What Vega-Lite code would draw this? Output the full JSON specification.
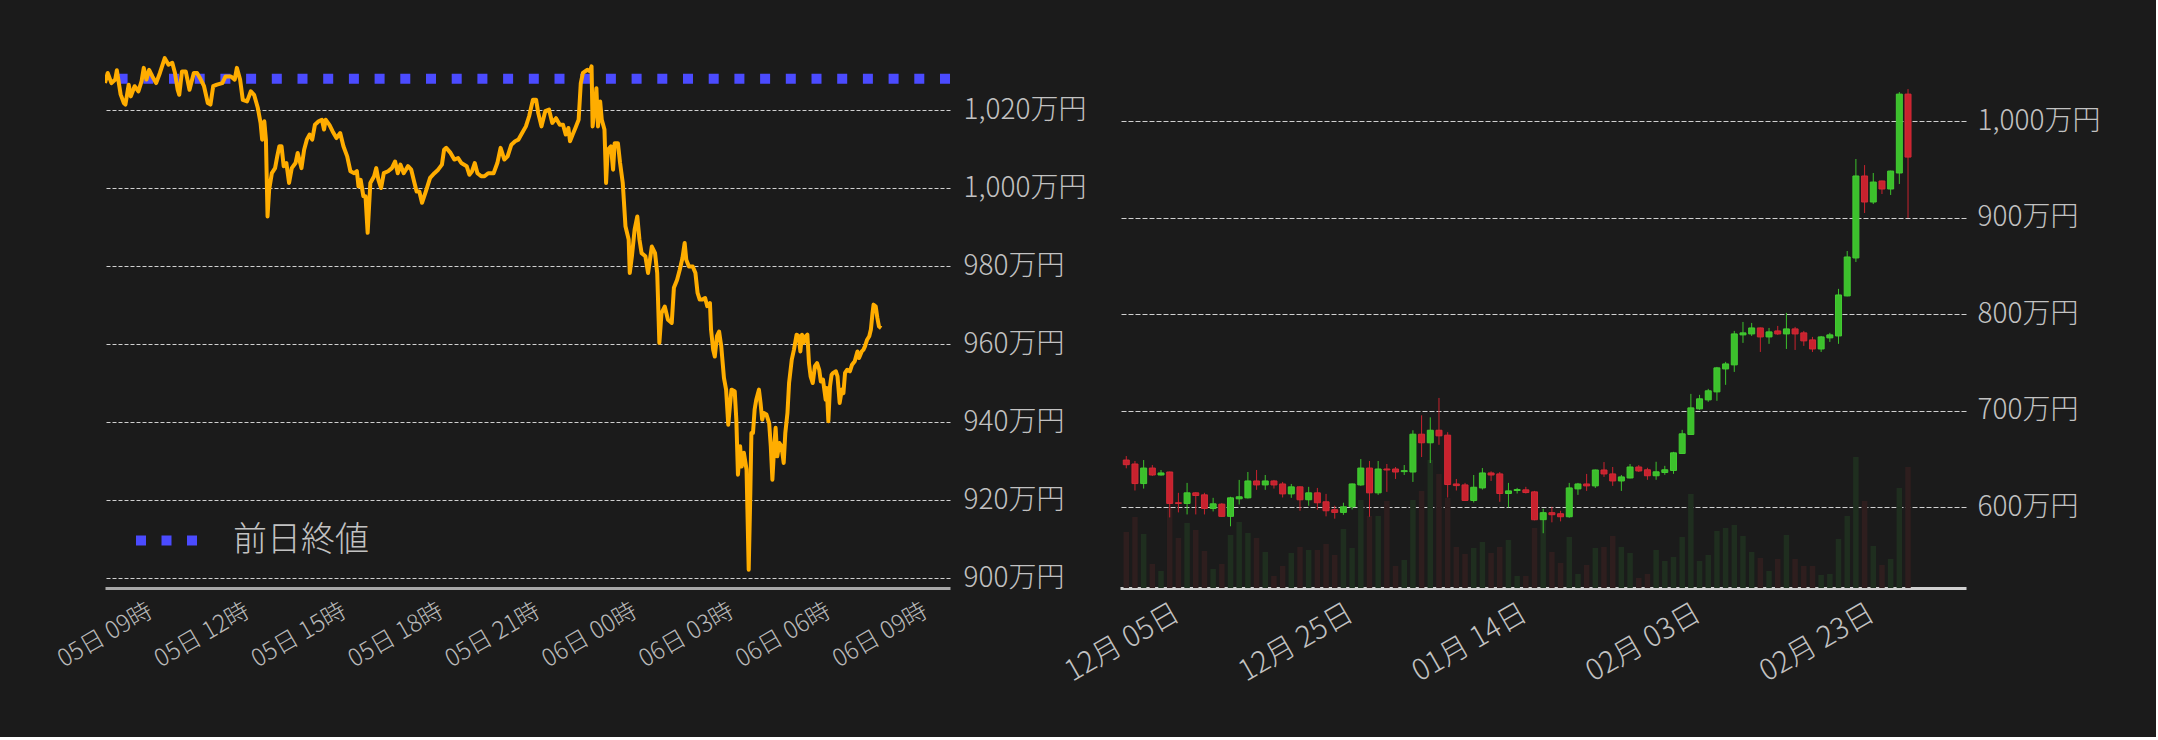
{
  "$schema": "https://vega.github.io/schema/vega-lite/v6.json",
  "background": "#1b1b1b",
  "padding": {"left": 53, "top": 54, "right": 56, "bottom": 50},
  "bounds": "flush",
  "spacing": 170,
  "config": {
    "view": {"stroke": null},
    "font": "Noto Sans CJK JP",
    "axis": {"labelFont": "Noto Sans CJK JP", "labelFontWeight": 300, "ticks": false, "tickSize": 0, "domain": false, "grid": false}
  },
  "datasets": {
    "intraday": [
      {"t":"2024-03-05T09:00","p":1026.9},{"t":"2024-03-05T09:05","p":1029.5},{"t":"2024-03-05T09:12","p":1026.9},{"t":"2024-03-05T09:19","p":1027.8},{"t":"2024-03-05T09:22","p":1030.2},{"t":"2024-03-05T09:29","p":1024.0},{"t":"2024-03-05T09:35","p":1021.8},{"t":"2024-03-05T09:38","p":1021.4},{"t":"2024-03-05T09:44","p":1026.5},{"t":"2024-03-05T09:48","p":1023.5},
      {"t":"2024-03-05T09:55","p":1026.1},{"t":"2024-03-05T10:02","p":1024.8},{"t":"2024-03-05T10:08","p":1027.4},{"t":"2024-03-05T10:12","p":1030.8},{"t":"2024-03-05T10:17","p":1027.8},{"t":"2024-03-05T10:22","p":1030.3},{"t":"2024-03-05T10:28","p":1028.6},{"t":"2024-03-05T10:35","p":1026.9},{"t":"2024-03-05T10:42","p":1029.5},{"t":"2024-03-05T10:51","p":1033.3},
      {"t":"2024-03-05T10:58","p":1031.6},{"t":"2024-03-05T11:05","p":1032.1},{"t":"2024-03-05T11:10","p":1029.5},{"t":"2024-03-05T11:15","p":1025.2},{"t":"2024-03-05T11:18","p":1023.9},{"t":"2024-03-05T11:23","p":1029.9},{"t":"2024-03-05T11:30","p":1029.9},{"t":"2024-03-05T11:37","p":1025.2},{"t":"2024-03-05T11:45","p":1029.5},{"t":"2024-03-05T11:51","p":1029.5},
      {"t":"2024-03-05T11:58","p":1027.8},{"t":"2024-03-05T12:04","p":1026.1},{"t":"2024-03-05T12:11","p":1021.8},{"t":"2024-03-05T12:16","p":1021.4},{"t":"2024-03-05T12:21","p":1026.1},{"t":"2024-03-05T12:28","p":1026.5},{"t":"2024-03-05T12:38","p":1026.9},{"t":"2024-03-05T12:44","p":1028.6},{"t":"2024-03-05T12:54","p":1028.6},{"t":"2024-03-05T13:01","p":1027.8},
      {"t":"2024-03-05T13:05","p":1030.8},{"t":"2024-03-05T13:11","p":1027.8},{"t":"2024-03-05T13:16","p":1022.6},{"t":"2024-03-05T13:24","p":1022.2},{"t":"2024-03-05T13:31","p":1024.8},{"t":"2024-03-05T13:37","p":1023.9},{"t":"2024-03-05T13:44","p":1020.5},{"t":"2024-03-05T13:49","p":1016.7},{"t":"2024-03-05T13:52","p":1012.4},{"t":"2024-03-05T13:56","p":1017.1},
      {"t":"2024-03-05T13:59","p":1012.4},{"t":"2024-03-05T14:02","p":992.7},{"t":"2024-03-05T14:05","p":999.6},{"t":"2024-03-05T14:10","p":1003.8},{"t":"2024-03-05T14:16","p":1005.1},{"t":"2024-03-05T14:20","p":1008.1},{"t":"2024-03-05T14:24","p":1010.7},{"t":"2024-03-05T14:28","p":1010.7},{"t":"2024-03-05T14:32","p":1005.6},{"t":"2024-03-05T14:37","p":1006.4},
      {"t":"2024-03-05T14:42","p":1001.3},{"t":"2024-03-05T14:47","p":1005.1},{"t":"2024-03-05T14:54","p":1006.4},{"t":"2024-03-05T14:58","p":1009.0},{"t":"2024-03-05T15:05","p":1005.1},{"t":"2024-03-05T15:10","p":1009.8},{"t":"2024-03-05T15:15","p":1012.4},{"t":"2024-03-05T15:20","p":1013.7},{"t":"2024-03-05T15:25","p":1012.4},{"t":"2024-03-05T15:30","p":1016.2},
      {"t":"2024-03-05T15:37","p":1017.1},{"t":"2024-03-05T15:43","p":1017.5},{"t":"2024-03-05T15:47","p":1015.0},{"t":"2024-03-05T15:50","p":1017.5},{"t":"2024-03-05T15:57","p":1016.2},{"t":"2024-03-05T16:03","p":1014.5},{"t":"2024-03-05T16:10","p":1012.8},{"t":"2024-03-05T16:17","p":1014.1},{"t":"2024-03-05T16:23","p":1010.7},{"t":"2024-03-05T16:30","p":1008.1},
      {"t":"2024-03-05T16:36","p":1004.3},{"t":"2024-03-05T16:43","p":1003.8},{"t":"2024-03-05T16:48","p":1004.3},{"t":"2024-03-05T16:51","p":1000.4},{"t":"2024-03-05T16:55","p":1002.1},{"t":"2024-03-05T17:00","p":997.9},{"t":"2024-03-05T17:04","p":997.9},{"t":"2024-03-05T17:08","p":988.5},{"t":"2024-03-05T17:13","p":1001.3},{"t":"2024-03-05T17:20","p":1003.0},
      {"t":"2024-03-05T17:24","p":1005.1},{"t":"2024-03-05T17:28","p":1002.1},{"t":"2024-03-05T17:33","p":1000.0},{"t":"2024-03-05T17:38","p":1003.8},{"t":"2024-03-05T17:46","p":1004.3},{"t":"2024-03-05T17:53","p":1005.1},{"t":"2024-03-05T17:59","p":1006.8},{"t":"2024-03-05T18:04","p":1003.8},{"t":"2024-03-05T18:09","p":1006.0},{"t":"2024-03-05T18:15","p":1003.8},
      {"t":"2024-03-05T18:23","p":1005.6},{"t":"2024-03-05T18:29","p":1004.7},{"t":"2024-03-05T18:35","p":1001.3},{"t":"2024-03-05T18:39","p":999.1},{"t":"2024-03-05T18:44","p":999.1},{"t":"2024-03-05T18:49","p":996.2},{"t":"2024-03-05T18:56","p":999.1},{"t":"2024-03-05T19:04","p":1002.6},{"t":"2024-03-05T19:12","p":1003.8},{"t":"2024-03-05T19:19","p":1004.7},
      {"t":"2024-03-05T19:26","p":1006.0},{"t":"2024-03-05T19:30","p":1009.8},{"t":"2024-03-05T19:34","p":1010.3},{"t":"2024-03-05T19:42","p":1009.0},{"t":"2024-03-05T19:49","p":1007.3},{"t":"2024-03-05T19:56","p":1007.7},{"t":"2024-03-05T20:02","p":1006.4},{"t":"2024-03-05T20:12","p":1005.6},{"t":"2024-03-05T20:17","p":1003.4},{"t":"2024-03-05T20:22","p":1004.3},
      {"t":"2024-03-05T20:27","p":1006.4},{"t":"2024-03-05T20:32","p":1003.8},{"t":"2024-03-05T20:39","p":1003.0},{"t":"2024-03-05T20:45","p":1003.0},{"t":"2024-03-05T20:52","p":1003.8},{"t":"2024-03-05T21:02","p":1003.8},{"t":"2024-03-05T21:09","p":1006.4},{"t":"2024-03-05T21:15","p":1010.3},{"t":"2024-03-05T21:22","p":1007.3},{"t":"2024-03-05T21:28","p":1008.1},
      {"t":"2024-03-05T21:35","p":1011.1},{"t":"2024-03-05T21:42","p":1012.0},{"t":"2024-03-05T21:48","p":1012.4},{"t":"2024-03-05T21:55","p":1014.1},{"t":"2024-03-05T22:02","p":1015.8},{"t":"2024-03-05T22:08","p":1018.4},{"t":"2024-03-05T22:15","p":1022.6},{"t":"2024-03-05T22:21","p":1022.6},{"t":"2024-03-05T22:25","p":1019.2},{"t":"2024-03-05T22:31","p":1015.8},
      {"t":"2024-03-05T22:38","p":1019.7},{"t":"2024-03-05T22:45","p":1020.1},{"t":"2024-03-05T22:51","p":1016.7},{"t":"2024-03-05T22:58","p":1017.9},{"t":"2024-03-05T23:05","p":1016.2},{"t":"2024-03-05T23:11","p":1016.2},{"t":"2024-03-05T23:16","p":1013.7},{"t":"2024-03-05T23:21","p":1015.4},{"t":"2024-03-05T23:24","p":1012.0},{"t":"2024-03-05T23:29","p":1013.7},
      {"t":"2024-03-05T23:34","p":1015.4},{"t":"2024-03-05T23:40","p":1017.5},{"t":"2024-03-05T23:44","p":1026.9},{"t":"2024-03-05T23:48","p":1029.5},{"t":"2024-03-05T23:56","p":1030.3},{"t":"2024-03-06T00:01","p":1029.9},{"t":"2024-03-06T00:04","p":1031.2},{"t":"2024-03-06T00:06","p":1015.8},{"t":"2024-03-06T00:10","p":1020.9},{"t":"2024-03-06T00:13","p":1025.6},
      {"t":"2024-03-06T00:16","p":1015.8},{"t":"2024-03-06T00:20","p":1022.2},{"t":"2024-03-06T00:23","p":1017.5},{"t":"2024-03-06T00:28","p":1015.0},{"t":"2024-03-06T00:31","p":1001.3},{"t":"2024-03-06T00:34","p":1009.8},{"t":"2024-03-06T00:40","p":1010.7},{"t":"2024-03-06T00:44","p":1004.7},{"t":"2024-03-06T00:47","p":1011.5},{"t":"2024-03-06T00:53","p":1011.5},
      {"t":"2024-03-06T00:57","p":1006.4},{"t":"2024-03-06T01:02","p":1001.3},{"t":"2024-03-06T01:07","p":990.2},{"t":"2024-03-06T01:13","p":986.8},{"t":"2024-03-06T01:15","p":978.2},{"t":"2024-03-06T01:19","p":982.5},{"t":"2024-03-06T01:24","p":989.3},{"t":"2024-03-06T01:29","p":992.7},{"t":"2024-03-06T01:33","p":986.8},{"t":"2024-03-06T01:37","p":983.3},
      {"t":"2024-03-06T01:44","p":982.5},{"t":"2024-03-06T01:49","p":978.2},{"t":"2024-03-06T01:56","p":985.0},{"t":"2024-03-06T02:02","p":983.3},{"t":"2024-03-06T02:06","p":978.2},{"t":"2024-03-06T02:10","p":960.3},{"t":"2024-03-06T02:14","p":967.9},{"t":"2024-03-06T02:20","p":969.6},{"t":"2024-03-06T02:26","p":966.2},{"t":"2024-03-06T02:33","p":965.4},
      {"t":"2024-03-06T02:37","p":974.4},{"t":"2024-03-06T02:43","p":976.5},{"t":"2024-03-06T02:48","p":979.1},{"t":"2024-03-06T02:53","p":982.1},{"t":"2024-03-06T02:57","p":985.9},{"t":"2024-03-06T03:00","p":981.6},{"t":"2024-03-06T03:05","p":979.9},{"t":"2024-03-06T03:12","p":979.9},{"t":"2024-03-06T03:17","p":978.2},{"t":"2024-03-06T03:21","p":973.1},
      {"t":"2024-03-06T03:25","p":971.4},{"t":"2024-03-06T03:30","p":971.4},{"t":"2024-03-06T03:35","p":971.8},{"t":"2024-03-06T03:39","p":969.7},{"t":"2024-03-06T03:44","p":970.5},{"t":"2024-03-06T03:46","p":963.7},{"t":"2024-03-06T03:50","p":958.5},{"t":"2024-03-06T03:53","p":956.8},{"t":"2024-03-06T03:57","p":962.0},{"t":"2024-03-06T04:01","p":963.2},
      {"t":"2024-03-06T04:05","p":959.4},{"t":"2024-03-06T04:10","p":951.3},{"t":"2024-03-06T04:14","p":948.3},{"t":"2024-03-06T04:18","p":939.3},{"t":"2024-03-06T04:21","p":944.0},{"t":"2024-03-06T04:24","p":948.3},{"t":"2024-03-06T04:30","p":947.9},{"t":"2024-03-06T04:33","p":940.6},{"t":"2024-03-06T04:36","p":926.5},{"t":"2024-03-06T04:40","p":933.8},
      {"t":"2024-03-06T04:43","p":928.6},{"t":"2024-03-06T04:47","p":932.1},{"t":"2024-03-06T04:52","p":927.8},{"t":"2024-03-06T04:56","p":902.1},{"t":"2024-03-06T04:59","p":921.8},{"t":"2024-03-06T05:01","p":937.2},{"t":"2024-03-06T05:04","p":937.2},{"t":"2024-03-06T05:07","p":943.2},{"t":"2024-03-06T05:10","p":945.7},{"t":"2024-03-06T05:15","p":948.3},
      {"t":"2024-03-06T05:18","p":944.9},{"t":"2024-03-06T05:21","p":940.6},{"t":"2024-03-06T05:24","p":942.3},{"t":"2024-03-06T05:29","p":941.9},{"t":"2024-03-06T05:34","p":939.7},{"t":"2024-03-06T05:37","p":933.8},{"t":"2024-03-06T05:40","p":925.2},{"t":"2024-03-06T05:43","p":932.9},{"t":"2024-03-06T05:46","p":938.5},{"t":"2024-03-06T05:49","p":931.2},
      {"t":"2024-03-06T05:53","p":934.6},{"t":"2024-03-06T05:57","p":933.8},{"t":"2024-03-06T06:01","p":929.5},{"t":"2024-03-06T06:04","p":937.2},{"t":"2024-03-06T06:08","p":942.3},{"t":"2024-03-06T06:11","p":950.0},{"t":"2024-03-06T06:16","p":956.0},{"t":"2024-03-06T06:20","p":958.5},{"t":"2024-03-06T06:25","p":962.4},{"t":"2024-03-06T06:29","p":962.0},
      {"t":"2024-03-06T06:32","p":958.1},{"t":"2024-03-06T06:35","p":962.4},{"t":"2024-03-06T06:38","p":960.3},{"t":"2024-03-06T06:42","p":962.0},{"t":"2024-03-06T06:45","p":962.4},{"t":"2024-03-06T06:48","p":955.1},{"t":"2024-03-06T06:51","p":951.7},{"t":"2024-03-06T06:55","p":950.0},{"t":"2024-03-06T06:59","p":954.3},{"t":"2024-03-06T07:03","p":955.1},
      {"t":"2024-03-06T07:07","p":953.4},{"t":"2024-03-06T07:10","p":950.4},{"t":"2024-03-06T07:14","p":950.9},{"t":"2024-03-06T07:19","p":945.7},{"t":"2024-03-06T07:21","p":948.7},{"t":"2024-03-06T07:24","p":940.2},{"t":"2024-03-06T07:27","p":949.1},{"t":"2024-03-06T07:30","p":952.1},{"t":"2024-03-06T07:33","p":952.6},{"t":"2024-03-06T07:38","p":953.0},
      {"t":"2024-03-06T07:41","p":951.7},{"t":"2024-03-06T07:45","p":944.9},{"t":"2024-03-06T07:49","p":948.3},{"t":"2024-03-06T07:52","p":947.4},{"t":"2024-03-06T07:55","p":952.6},{"t":"2024-03-06T07:59","p":953.4},{"t":"2024-03-06T08:04","p":953.0},{"t":"2024-03-06T08:08","p":954.7},{"t":"2024-03-06T08:13","p":955.6},{"t":"2024-03-06T08:18","p":958.1},
      {"t":"2024-03-06T08:21","p":956.4},{"t":"2024-03-06T08:26","p":958.1},{"t":"2024-03-06T08:29","p":958.5},{"t":"2024-03-06T08:32","p":959.4},{"t":"2024-03-06T08:36","p":961.1},{"t":"2024-03-06T08:40","p":962.0},{"t":"2024-03-06T08:43","p":963.7},{"t":"2024-03-06T08:46","p":967.9},{"t":"2024-03-06T08:48","p":970.1},{"t":"2024-03-06T08:52","p":969.6},
      {"t":"2024-03-06T08:55","p":966.7},{"t":"2024-03-06T08:58","p":964.5},{"t":"2024-03-06T09:02","p":964.1}
    ],
    "daily": [
      {"d":"2023-12-05T12:00","o":648.8,"h":652.9,"l":640.2,"c":644.0,"v":56,"dir":"down"},
      {"d":"2023-12-06T12:00","o":644.7,"h":647.8,"l":617.2,"c":624.4,"v":71,"dir":"down"},
      {"d":"2023-12-07T12:00","o":624.4,"h":648.8,"l":619.2,"c":640.5,"v":54,"dir":"up"},
      {"d":"2023-12-08T12:00","o":640.5,"h":643.6,"l":632.3,"c":633.3,"v":24,"dir":"down"},
      {"d":"2023-12-09T12:00","o":633.3,"h":638.5,"l":632.6,"c":635.4,"v":17,"dir":"up"},
      {"d":"2023-12-10T12:00","o":636.4,"h":636.8,"l":589.3,"c":603.8,"v":80,"dir":"down"},
      {"d":"2023-12-11T12:00","o":604.5,"h":614.8,"l":594.5,"c":603.8,"v":50,"dir":"down"},
      {"d":"2023-12-12T12:00","o":603.8,"h":625.1,"l":592.4,"c":614.8,"v":65,"dir":"up"},
      {"d":"2023-12-13T12:00","o":614.8,"h":615.5,"l":592.4,"c":612.0,"v":58,"dir":"down"},
      {"d":"2023-12-14T12:00","o":612.7,"h":614.8,"l":592.4,"c":598.6,"v":37,"dir":"down"},
      {"d":"2023-12-15T12:00","o":598.6,"h":609.6,"l":595.5,"c":603.4,"v":19,"dir":"up"},
      {"d":"2023-12-16T12:00","o":603.1,"h":604.1,"l":589.8,"c":590.4,"v":24,"dir":"down"},
      {"d":"2023-12-17T12:00","o":590.4,"h":610.7,"l":580.1,"c":609.6,"v":53,"dir":"up"},
      {"d":"2023-12-18T12:00","o":608.6,"h":628.2,"l":602.7,"c":610.7,"v":66,"dir":"up"},
      {"d":"2023-12-19T12:00","o":609.6,"h":636.4,"l":608.9,"c":627.1,"v":55,"dir":"up"},
      {"d":"2023-12-20T12:00","o":627.1,"h":638.5,"l":617.9,"c":623.0,"v":50,"dir":"down"},
      {"d":"2023-12-21T12:00","o":623.0,"h":633.3,"l":617.9,"c":627.1,"v":36,"dir":"up"},
      {"d":"2023-12-22T12:00","o":627.1,"h":628.2,"l":619.2,"c":623.0,"v":12,"dir":"down"},
      {"d":"2023-12-23T12:00","o":624.0,"h":626.1,"l":610.0,"c":613.7,"v":22,"dir":"down"},
      {"d":"2023-12-24T12:00","o":613.7,"h":624.0,"l":609.6,"c":621.0,"v":35,"dir":"up"},
      {"d":"2023-12-25T12:00","o":621.0,"h":621.5,"l":596.2,"c":607.6,"v":41,"dir":"down"},
      {"d":"2023-12-26T12:00","o":607.6,"h":621.0,"l":601.4,"c":614.8,"v":38,"dir":"up"},
      {"d":"2023-12-27T12:00","o":614.8,"h":619.9,"l":597.3,"c":604.5,"v":38,"dir":"down"},
      {"d":"2023-12-28T12:00","o":605.5,"h":613.7,"l":590.4,"c":596.2,"v":44,"dir":"down"},
      {"d":"2023-12-29T12:00","o":597.3,"h":601.4,"l":588.0,"c":594.5,"v":33,"dir":"down"},
      {"d":"2023-12-30T12:00","o":594.5,"h":604.5,"l":592.0,"c":600.3,"v":59,"dir":"up"},
      {"d":"2023-12-31T12:00","o":600.3,"h":624.5,"l":597.6,"c":624.0,"v":40,"dir":"up"},
      {"d":"2024-01-01T12:00","o":623.0,"h":649.8,"l":622.0,"c":640.5,"v":88,"dir":"up"},
      {"d":"2024-01-02T12:00","o":640.5,"h":647.8,"l":590.0,"c":614.8,"v":72,"dir":"down"},
      {"d":"2024-01-03T12:00","o":614.8,"h":647.8,"l":612.7,"c":639.5,"v":72,"dir":"up"},
      {"d":"2024-01-04T12:00","o":639.5,"h":644.7,"l":615.8,"c":638.5,"v":87,"dir":"down"},
      {"d":"2024-01-05T12:00","o":639.5,"h":641.6,"l":629.2,"c":636.4,"v":22,"dir":"down"},
      {"d":"2024-01-06T12:00","o":636.8,"h":643.6,"l":633.3,"c":637.8,"v":28,"dir":"up"},
      {"d":"2024-01-07T12:00","o":636.4,"h":679.7,"l":626.1,"c":675.6,"v":88,"dir":"up"},
      {"d":"2024-01-08T12:00","o":675.6,"h":695.2,"l":651.9,"c":666.7,"v":97,"dir":"down"},
      {"d":"2024-01-09T12:00","o":666.7,"h":693.1,"l":645.7,"c":679.7,"v":128,"dir":"up"},
      {"d":"2024-01-10T12:00","o":679.7,"h":713.2,"l":664.6,"c":673.9,"v":114,"dir":"down"},
      {"d":"2024-01-11T12:00","o":674.6,"h":677.7,"l":610.0,"c":623.4,"v":90,"dir":"down"},
      {"d":"2024-01-12T12:00","o":624.0,"h":629.2,"l":617.2,"c":622.3,"v":41,"dir":"down"},
      {"d":"2024-01-13T12:00","o":623.0,"h":625.1,"l":606.5,"c":606.9,"v":34,"dir":"down"},
      {"d":"2024-01-14T12:00","o":606.9,"h":633.3,"l":604.8,"c":620.6,"v":40,"dir":"up"},
      {"d":"2024-01-15T12:00","o":619.9,"h":640.5,"l":618.2,"c":635.4,"v":46,"dir":"up"},
      {"d":"2024-01-16T12:00","o":635.4,"h":637.1,"l":627.1,"c":633.3,"v":35,"dir":"down"},
      {"d":"2024-01-17T12:00","o":634.4,"h":636.4,"l":605.5,"c":614.1,"v":41,"dir":"down"},
      {"d":"2024-01-18T12:00","o":614.1,"h":625.1,"l":599.7,"c":616.8,"v":48,"dir":"up"},
      {"d":"2024-01-19T12:00","o":617.2,"h":619.9,"l":614.1,"c":618.2,"v":12,"dir":"up"},
      {"d":"2024-01-20T12:00","o":617.9,"h":621.0,"l":614.1,"c":615.1,"v":12,"dir":"down"},
      {"d":"2024-01-21T12:00","o":615.8,"h":616.8,"l":586.3,"c":586.9,"v":60,"dir":"down"},
      {"d":"2024-01-22T12:00","o":586.9,"h":598.3,"l":572.9,"c":594.2,"v":67,"dir":"up"},
      {"d":"2024-01-23T12:00","o":594.2,"h":600.3,"l":584.2,"c":592.1,"v":36,"dir":"down"},
      {"d":"2024-01-24T12:00","o":593.1,"h":596.2,"l":585.2,"c":590.0,"v":25,"dir":"down"},
      {"d":"2024-01-25T12:00","o":590.0,"h":625.1,"l":589.0,"c":619.9,"v":51,"dir":"up"},
      {"d":"2024-01-26T12:00","o":618.9,"h":625.1,"l":612.7,"c":624.0,"v":14,"dir":"up"},
      {"d":"2024-01-27T12:00","o":624.0,"h":634.4,"l":616.8,"c":622.0,"v":23,"dir":"down"},
      {"d":"2024-01-28T12:00","o":622.0,"h":638.9,"l":619.9,"c":638.5,"v":40,"dir":"up"},
      {"d":"2024-01-29T12:00","o":638.5,"h":646.7,"l":631.3,"c":634.4,"v":41,"dir":"down"},
      {"d":"2024-01-30T12:00","o":634.4,"h":641.6,"l":622.0,"c":627.1,"v":52,"dir":"down"},
      {"d":"2024-01-31T12:00","o":627.1,"h":633.3,"l":616.8,"c":631.3,"v":41,"dir":"up"},
      {"d":"2024-02-01T12:00","o":630.2,"h":644.7,"l":629.8,"c":641.6,"v":35,"dir":"up"},
      {"d":"2024-02-02T12:00","o":641.6,"h":643.6,"l":636.4,"c":637.5,"v":10,"dir":"down"},
      {"d":"2024-02-03T12:00","o":638.7,"h":640.8,"l":628.3,"c":632.5,"v":14,"dir":"down"},
      {"d":"2024-02-04T12:00","o":632.5,"h":647.0,"l":628.3,"c":636.6,"v":38,"dir":"up"},
      {"d":"2024-02-05T12:00","o":635.9,"h":642.8,"l":633.5,"c":638.7,"v":27,"dir":"up"},
      {"d":"2024-02-06T12:00","o":638.0,"h":657.3,"l":634.5,"c":656.3,"v":31,"dir":"up"},
      {"d":"2024-02-07T12:00","o":655.6,"h":680.1,"l":655.2,"c":676.0,"v":51,"dir":"up"},
      {"d":"2024-02-08T12:00","o":675.3,"h":717.4,"l":674.9,"c":702.9,"v":94,"dir":"up"},
      {"d":"2024-02-09T12:00","o":701.9,"h":716.4,"l":700.9,"c":712.3,"v":27,"dir":"up"},
      {"d":"2024-02-10T12:00","o":711.2,"h":722.6,"l":709.2,"c":720.6,"v":33,"dir":"up"},
      {"d":"2024-02-11T12:00","o":719.5,"h":745.4,"l":710.2,"c":744.4,"v":57,"dir":"up"},
      {"d":"2024-02-12T12:00","o":743.3,"h":750.6,"l":726.8,"c":748.5,"v":60,"dir":"up"},
      {"d":"2024-02-13T12:00","o":747.5,"h":782.7,"l":740.2,"c":779.6,"v":63,"dir":"up"},
      {"d":"2024-02-14T12:00","o":778.6,"h":792.0,"l":770.3,"c":780.7,"v":52,"dir":"up"},
      {"d":"2024-02-15T12:00","o":779.6,"h":791.0,"l":777.5,"c":785.8,"v":36,"dir":"up"},
      {"d":"2024-02-16T12:00","o":785.8,"h":786.2,"l":760.9,"c":776.5,"v":30,"dir":"down"},
      {"d":"2024-02-17T12:00","o":776.5,"h":785.8,"l":769.3,"c":781.7,"v":17,"dir":"up"},
      {"d":"2024-02-18T12:00","o":782.7,"h":787.9,"l":778.6,"c":779.6,"v":29,"dir":"down"},
      {"d":"2024-02-19T12:00","o":779.6,"h":801.4,"l":764.0,"c":784.8,"v":53,"dir":"up"},
      {"d":"2024-02-20T12:00","o":784.8,"h":786.9,"l":763.0,"c":779.6,"v":29,"dir":"down"},
      {"d":"2024-02-21T12:00","o":780.7,"h":782.7,"l":767.2,"c":772.4,"v":22,"dir":"down"},
      {"d":"2024-02-22T12:00","o":773.4,"h":776.5,"l":760.9,"c":764.0,"v":22,"dir":"down"},
      {"d":"2024-02-23T12:00","o":764.0,"h":777.5,"l":760.9,"c":776.5,"v":13,"dir":"up"},
      {"d":"2024-02-24T12:00","o":775.5,"h":780.7,"l":771.3,"c":778.6,"v":14,"dir":"up"},
      {"d":"2024-02-25T12:00","o":777.5,"h":826.3,"l":769.3,"c":820.0,"v":49,"dir":"up"},
      {"d":"2024-02-26T12:00","o":819.0,"h":865.6,"l":818.6,"c":859.4,"v":72,"dir":"up"},
      {"d":"2024-02-27T12:00","o":858.4,"h":961.0,"l":854.2,"c":943.4,"v":131,"dir":"up"},
      {"d":"2024-02-28T12:00","o":943.4,"h":954.7,"l":905.0,"c":916.4,"v":87,"dir":"down"},
      {"d":"2024-02-29T12:00","o":916.4,"h":946.5,"l":914.3,"c":937.1,"v":42,"dir":"up"},
      {"d":"2024-03-01T12:00","o":938.2,"h":938.6,"l":924.7,"c":929.9,"v":23,"dir":"down"},
      {"d":"2024-03-02T12:00","o":929.9,"h":948.9,"l":923.7,"c":948.5,"v":29,"dir":"up"},
      {"d":"2024-03-03T12:00","o":946.5,"h":1030.4,"l":935.1,"c":1028.3,"v":100,"dir":"up"},
      {"d":"2024-03-04T12:00","o":1028.3,"h":1033.5,"l":899.8,"c":963.0,"v":121,"dir":"down"}
    ]
  },
  "hconcat": [
    {
      "width": 845,
      "height": 534,
      "layer": [
        {
          "data": {"values": [{"prev": 1028.0, "label": "前日終値"}]},
          "mark": {"type": "rule", "strokeDash": [10, 15.7], "strokeWidth": 10, "strokeCap": "butt"},
          "encoding": {
            "y": {"field": "prev", "type": "quantitative", "scale": {"domain": [897.44, 1034.36], "nice": false, "zero": false},
              "axis": {"orient": "right", "values": [900, 920, 940, 960, 980, 1000, 1020], "labelExpr": "format(datum.value, ',') + '万円'", "labelFontSize": 28, "labelColor": "#c2c2c2", "labelPadding": 13, "labelAlign": "left", "labelBaseline": "middle", "grid": true, "gridColor": "#d0d0d0", "gridDash": [4, 2], "gridWidth": 1, "title": null}},
            "color": {"field": "label", "type": "nominal", "scale": {"domain": ["前日終値"], "range": ["#4b4bff"]},
              "legend": {"orient": "none", "legendX": 26, "legendY": 451, "title": null, "padding": 0, "symbolType": "stroke", "symbolStrokeWidth": 10, "symbolDash": [10, 15.5], "symbolSize": 3721, "labelFontSize": 34, "labelFontWeight": 300, "labelColor": "#c2c2c2", "labelFont": "Noto Sans CJK JP", "labelOffset": 31}}
          }
        },
        {
          "data": {"name": "intraday"},
          "mark": {"type": "line", "color": "#ffad00", "strokeWidth": 4, "strokeJoin": "round", "clip": true},
          "encoding": {
            "x": {"field": "t", "type": "temporal",
              "scale": {"domain": [{"year": 2024, "month": 3, "date": 5, "hours": 9}, {"year": 2024, "month": 3, "date": 6, "hours": 11, "minutes": 10}]},
              "axis": {"values": [
                {"year": 2024, "month": 3, "date": 5, "hours": 9}, {"year": 2024, "month": 3, "date": 5, "hours": 12}, {"year": 2024, "month": 3, "date": 5, "hours": 15}, {"year": 2024, "month": 3, "date": 5, "hours": 18}, {"year": 2024, "month": 3, "date": 5, "hours": 21}, {"year": 2024, "month": 3, "date": 6, "hours": 0}, {"year": 2024, "month": 3, "date": 6, "hours": 3}, {"year": 2024, "month": 3, "date": 6, "hours": 6}, {"year": 2024, "month": 3, "date": 6, "hours": 9}],
                "format": "%d日 %H時", "labelAngle": -30, "labelAlign": "center", "labelBaseline": "middle", "labelPadding": 47, "labelFontSize": 24, "labelColor": "#b8b8b8", "labelFlush": false, "labelOverlap": false, "labelBound": false,
                "domain": true, "domainColor": "#a8a8a8", "domainWidth": 3, "title": null}},
            "y": {"field": "p", "type": "quantitative", "scale": {"domain": [897.44, 1034.36], "nice": false, "zero": false}}
          }
        }
      ]
    },
    {
      "width": 846,
      "height": 534,
      "data": {"name": "daily"},
      "layer": [
        {
          "mark": {"type": "bar", "width": 5.5, "clip": true},
          "encoding": {
            "x": {"field": "d", "type": "temporal",
              "scale": {"domain": [{"year": 2023, "month": 12, "date": 5, "hours": 8, "minutes": 28}, {"year": 2024, "month": 3, "date": 10, "hours": 14, "minutes": 24}]},
              "axis": {"values": [{"year": 2023, "month": 12, "date": 5}, {"year": 2023, "month": 12, "date": 25}, {"year": 2024, "month": 1, "date": 14}, {"year": 2024, "month": 2, "date": 3}, {"year": 2024, "month": 2, "date": 23}],
                "format": "%m月 %d日", "labelAngle": -30, "labelAlign": "center", "labelBaseline": "middle", "labelPadding": 54, "labelFontSize": 29, "labelColor": "#c2c2c2", "labelFlush": false, "labelOverlap": false, "labelBound": false,
                "domain": true, "domainColor": "#d0d0d0", "domainWidth": 3, "title": null}},
            "y": {"field": "v", "type": "quantitative", "scale": {"domain": [0, 534], "nice": false}, "axis": null},
            "color": {"field": "dir", "type": "nominal", "scale": {"domain": ["up", "down"], "range": ["#1f2e1f", "#2e1e1e"]}, "legend": null}
          }
        },
        {
          "layer": [
            {
              "mark": {"type": "rule", "strokeWidth": 1, "clip": true},
              "encoding": {
                "x": {"field": "d", "type": "temporal"},
                "y": {"field": "l", "type": "quantitative", "scale": {"domain": [516.1, 1069.9], "nice": false, "zero": false},
                  "axis": {"orient": "right", "values": [600, 700, 800, 900, 1000], "labelExpr": "format(datum.value, ',') + '万円'", "labelFontSize": 28, "labelColor": "#c2c2c2", "labelPadding": 11, "labelAlign": "left", "labelBaseline": "middle", "grid": true, "gridColor": "#d0d0d0", "gridDash": [5, 2], "gridWidth": 1, "title": null}},
                "y2": {"field": "h"},
                "color": {"field": "dir", "type": "nominal", "scale": {"domain": ["up", "down"], "range": ["#3cc02c", "#c8222e"]}, "legend": null}
              }
            },
            {
              "mark": {"type": "bar", "width": 6, "clip": true, "strokeWidth": 1},
              "encoding": {
                "x": {"field": "d", "type": "temporal"},
                "y": {"field": "o", "type": "quantitative"},
                "y2": {"field": "c"},
                "color": {"field": "dir", "type": "nominal", "scale": {"domain": ["up", "down"], "range": ["#34b028", "#bd1f2d"]}, "legend": null},
                "stroke": {"field": "dir", "type": "nominal", "scale": {"domain": ["up", "down"], "range": ["#44cc33", "#d42a36"]}, "legend": null}
              }
            }
          ]
        }
      ],
      "resolve": {"scale": {"y": "independent", "color": "independent"}}
    }
  ]
}
